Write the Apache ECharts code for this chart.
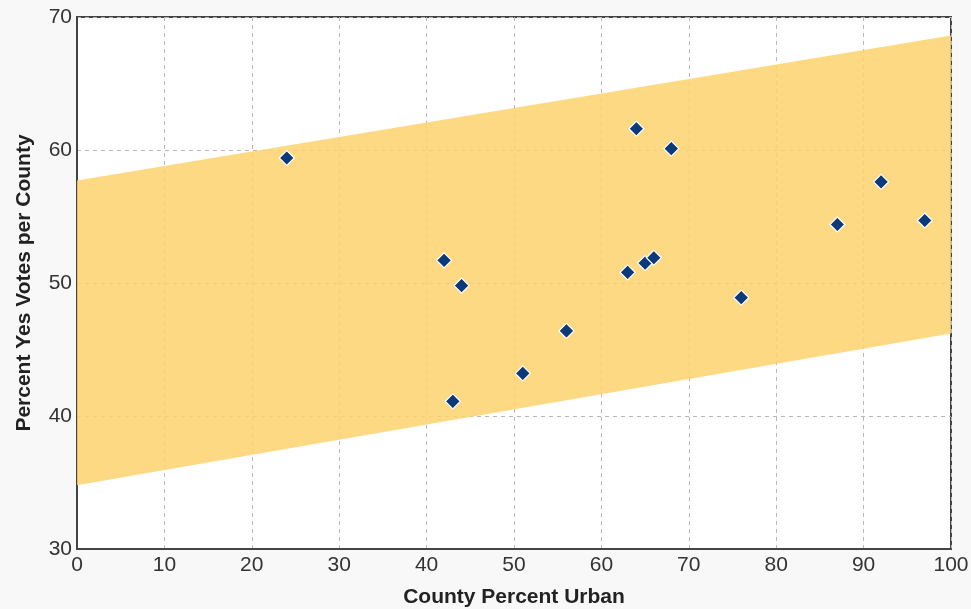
<!DOCTYPE html>
<html><head><meta charset="utf-8">
<script src="https://cdn.jsdelivr.net/npm/echarts@6/dist/echarts.min.js"></script>
<style>html,body{margin:0;padding:0;background:#f8f8f8}#c{width:971px;height:609px}</style>
</head><body><div id="c"></div>
<script>
const urban = [24, 42, 44, 43, 51, 56, 64, 68, 63, 65, 66, 76, 87, 92, 97];
const yesVotes = [59.4, 51.7, 49.8, 41.1, 43.2, 46.4, 61.6, 60.1, 50.8, 51.5, 51.9, 48.9, 54.4, 57.6, 54.7];
const bandX = [0, 100];
const bandLower = [34.8, 46.2];
const bandUpper = [57.7, 68.6];

const chart = echarts.init(document.getElementById('c'), null, {renderer: 'canvas'});
const font = 'Helvetica, Arial, "Liberation Sans", sans-serif';
chart.setOption({
  backgroundColor: '#f8f8f8',
  animation: false,
  grid: {left: 77, right: 20, top: 17, bottom: 60, show: true, backgroundColor: '#ffffff', borderColor: '#444', borderWidth: 2, containLabel: false, outerBoundsMode: 'none'},
  xAxis: {
    type: 'value', min: 0, max: 100, interval: 10,
    name: 'County Percent Urban', nameLocation: 'middle', nameGap: 38,
    nameTextStyle: {fontFamily: font, fontWeight: 'bold', fontSize: 21, color: '#222'},
    axisLine: {show: true, lineStyle: {color: '#444', width: 2}},
    axisTick: {show: false},
    axisLabel: {fontFamily: font, fontSize: 21, color: '#333', margin: 6},
    splitLine: {show: true, lineStyle: {color: '#b8b8b8', type: [4, 4], width: 1}}
  },
  yAxis: {
    type: 'value', min: 30, max: 70, interval: 10,
    name: 'Percent Yes Votes per County', nameLocation: 'middle', nameGap: 42,
    nameTextStyle: {fontFamily: font, fontWeight: 'bold', fontSize: 21, color: '#222'},
    axisLine: {show: true, lineStyle: {color: '#444', width: 2}},
    axisTick: {show: false},
    axisLabel: {fontFamily: font, fontSize: 21, color: '#333', margin: 5},
    splitLine: {show: true, lineStyle: {color: '#b8b8b8', type: [4, 4], width: 1}}
  },
  series: [
    {
      type: 'custom', z: 1, silent: true,
      data: [0],
      renderItem: function (params, api) {
        const pts = [];
        for (let i = 0; i < bandX.length; i++) pts.push(api.coord([bandX[i], bandLower[i]]));
        for (let i = bandX.length - 1; i >= 0; i--) pts.push(api.coord([bandX[i], bandUpper[i]]));
        return {type: 'polygon', shape: {points: pts}, style: {fill: 'rgba(253,210,110,0.85)'}, z2: 0};
      }
    },
    {
      type: 'scatter', z: 3,
      symbol: 'diamond', symbolSize: 15,
      itemStyle: {color: '#0a3a7a', borderColor: '#ffffff', borderWidth: 1.2, opacity: 1},
      data: urban.map((x, i) => [x, yesVotes[i]])
    }
  ]
});
</script></body></html>
